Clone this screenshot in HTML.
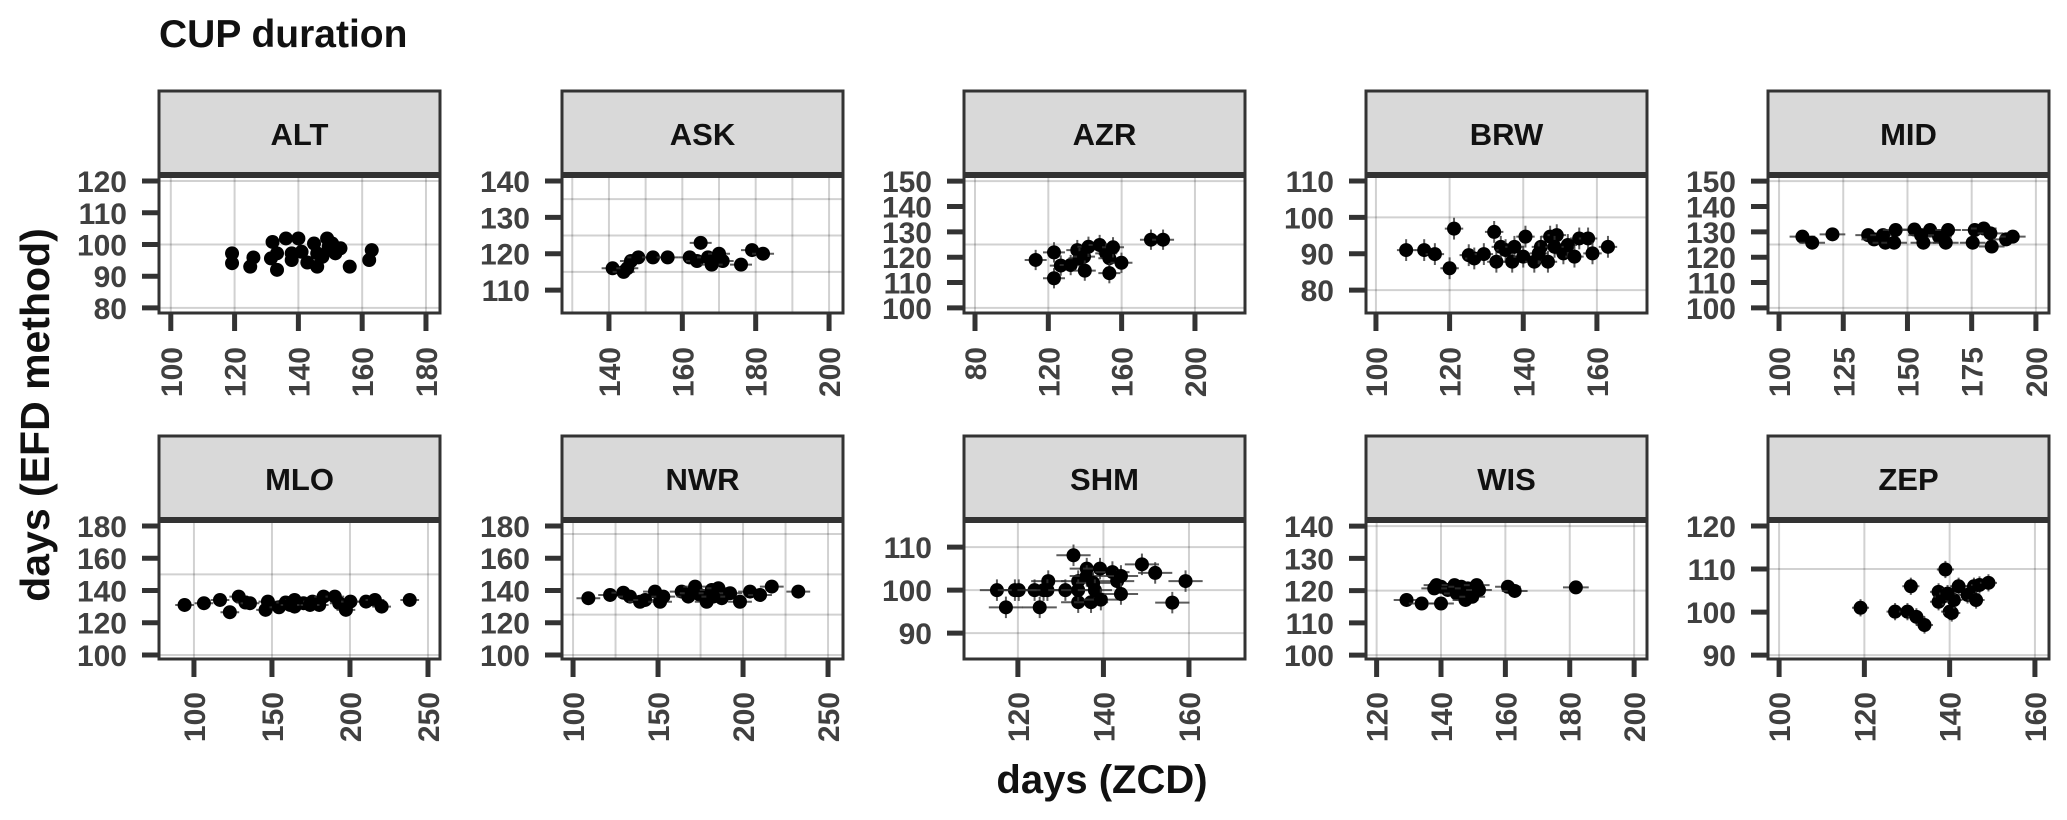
<!DOCTYPE html>
<html><head><meta charset="utf-8"><title>CUP duration</title>
<style>
html,body{margin:0;padding:0;background:#fff;}
svg{display:block;font-family:"Liberation Sans",Arial,sans-serif;}
</style></head>
<body>
<svg id="chart" width="2067" height="820" viewBox="0 0 2067 820" xmlns="http://www.w3.org/2000/svg">
<text x="159" y="47" font-size="39" font-weight="bold" fill="#111">CUP duration</text>
<text transform="translate(49,415) rotate(-90)" text-anchor="middle" font-size="41" font-weight="bold" fill="#111">days (EFD method)</text>
<text x="1102" y="793" text-anchor="middle" font-size="40" font-weight="bold" fill="#111">days (ZCD)</text>
</svg>
<script>
// ---- data: station panels ----
const stations = ["ALT","ASK","AZR","BRW","MID","MLO","NWR","SHM","WIS","ZEP"];
const xTicks = {
 ALT:[100,120,140,160,180], ASK:[140,160,180,200], AZR:[80,120,160,200], BRW:[100,120,140,160], MID:[100,125,150,175,200],
 MLO:[100,150,200,250], NWR:[100,150,200,250], SHM:[120,140,160], WIS:[120,140,160,180,200], ZEP:[100,120,140,160]
};
const yTicks = {
 ALT:[80,90,100,110,120], ASK:[110,120,130,140], AZR:[100,110,120,130,140,150], BRW:[80,90,100,110], MID:[100,110,120,130,140,150],
 MLO:[100,120,140,160,180], NWR:[100,120,140,160,180], SHM:[90,100,110], WIS:[100,110,120,130,140], ZEP:[90,100,110,120]
};
const xLims = {
 ALT:[96.3,184.4], ASK:[127.2,203.8], AZR:[74.0,227.3], BRW:[97.3,173.6], MID:[95.7,205.1],
 MLO:[77.6,257.7], NWR:[93.5,258.8], SHM:[107.4,173.1], WIS:[116.7,204.0], ZEP:[97.4,163.3]
};
const yLims = {
 ALT:[78.4,121.9], ASK:[103.7,141.65], AZR:[98,152.4], BRW:[73.7,111.65], MID:[98,152.4],
 MLO:[97.5,183.7], NWR:[97.5,183.7], SHM:[84.0,116.3], WIS:[98.8,141.9], ZEP:[89.1,121.4]
};
const xGrid = {
 ALT:[100,120,140,160,180], ASK:[130,140,150,160,170,180,190,200], AZR:[80,120,160,200], BRW:[100,120,140,160], MID:[100,125,150,175,200],
 MLO:[100,150,200,250], NWR:[100,125,150,175,200,225,250], SHM:[120,140,160], WIS:[120,140,160,180,200], ZEP:[100,120,140,160]
};
const yGrid = {
 ALT:[80,100,120], ASK:[115,125,135], AZR:[100,125,150], BRW:[80,100], MID:[100,125,150],
 MLO:[100,150], NWR:[100,125,150,175], SHM:[90,100,110], WIS:[100,120,140], ZEP:[90,110]
};
const xVals = {
 ALT:[119.2,119.2,125.9,124.9,131.9,131.4,133.3,133.3,136.1,137.9,137.9,140,141,142.8,144.9,145.9,145.9,149,149.5,151.6,153.2,156.1,162.2,163,150.6,147.5],
 ASK:[141,144,145,146,148,152,156,162,164,165,167,171,176,179,182,170,168],
 AZR:[113.1,123.1,123.1,126.8,132.2,135.8,137,139.5,139.9,141.9,148,151.6,153.3,153.3,155.3,159.9,176,182.6],
 BRW:[108.2,113.1,116,120,121.2,125.2,126.7,129.3,132.1,132.7,133.9,135.2,137,140,140.6,143,144.8,146.7,147.3,149.1,150.9,152.1,153.9,155.2,157.6,158.8,163,144.2,148.5,137.6],
 MID:[109.1,112.9,120.8,134.7,137,140.5,141.4,145.4,144.8,152.7,156.2,158.8,162.3,165.8,164.9,175.4,176.2,179.7,182.3,182.8,188.4,191,155.3],
 MLO:[94,106.4,116.7,123,128.7,133,135.9,145.9,147.4,154.5,158.8,164.5,164.5,170.2,176,180.3,183.1,190.3,193.1,197.4,200.3,210.3,216,220.3,238.3,161.6,174.4],
 NWR:[109,121.8,129.6,133.5,139.4,142.4,148.2,151.2,153.1,163.9,167.8,171.8,174.7,178.6,181.6,185.5,187.5,192.4,198.2,204.1,210,216.9,232.5,169.8,182.5],
 SHM:[115.1,117.2,119.3,120.2,123.9,125.1,126,127.1,126.9,131.1,133,134.1,134.1,134.1,136.1,136.1,137.1,137.6,138,139.2,139.4,142.1,143.2,144.1,144.1,149,152.1,156.1,159.2],
 WIS:[129.3,134,138.6,140,140,142.1,144.2,144.9,146.3,147.6,148.3,149.7,151.1,151.8,160.8,162.9,181.9,137.9],
 ZEP:[119.1,127.2,130.1,130.9,132.2,134.1,137.4,137.4,139,138.4,140,140.5,141,142.1,144.2,145.7,146.2,147,149.1,139.5]
};
const yVals = {
 ALT:[97.2,94.1,95.9,93,100.8,95.6,97.2,92,101.9,97.2,95.1,101.9,97.7,94.3,100.3,97.2,93,101.9,99.3,97.2,98.8,93,95.1,98.2,100.3,96.1],
 ASK:[116,115,116,118,119,119,119,119,118,123,119,118,117,121,120,120,117],
 AZR:[118.9,121.9,111.7,116.7,116.9,122.8,119.6,120.2,114.7,124.1,124.8,121.5,119.6,113.7,123.9,117.8,126.9,126.9],
 BRW:[91,91,89.9,86,96.9,89.6,88.7,89.9,96,87.8,91.9,91,87.8,89.2,94.7,87.8,91.9,87.8,94.7,95.1,90.1,92.4,89.2,94.2,94.2,90.1,91.9,90.1,91.9,91.9],
 MID:[128.1,125.7,129,128.7,127,128.7,125.7,130.7,125.7,130.9,125.7,130.7,128.1,130.7,125.7,125.7,130.7,131.3,129.4,124.2,127,128.1,128.7],
 MLO:[131,132.1,134.1,126.5,136.2,132.5,132.1,128,133.1,129.6,132.5,134.1,130,132.1,133.1,131,136.2,136.2,132.1,128,133.1,133.1,134.1,130,134.1,131,131],
 NWR:[135.2,137.2,138.6,136.2,133,134.1,139.3,133,136.2,139.3,136.2,142.4,137.2,133,140.3,141.4,135.2,138.3,133,139.3,137.2,142.4,139.3,138.3,136.2],
 SHM:[100,96,100,100,100,96,100,102.1,100,100,108.1,102.1,97.2,100,105,103.3,97.2,101.7,100,105,97.8,104.2,102.1,103.3,99.1,106,104,97.1,102.1],
 WIS:[117.1,116,121.7,116,121.2,120.2,121.7,119.1,121.2,117.1,120.7,118.1,121.7,120.2,121.2,119.9,121,120.7],
 ZEP:[101,100.1,100.1,106,98.9,97,104.7,102.4,109.9,103.6,100.1,99.8,102.8,106,104,106,102.8,106.3,106.8,104.3]
};
const xErr = {ALT:2, ASK:3, AZR:6, BRW:2.5, MID:5, MLO:6, NWR:7, SHM:4, WIS:4, ZEP:2};
const yErr = {ALT:2, ASK:1.5, AZR:4, BRW:3, MID:1.5, MLO:2, NWR:2, SHM:2.5, WIS:2, ZEP:2};

// ---- layout ----
const colLeft = [159,562,964,1366,1768];
const panelW = 281;
const rows = [{stripTop:91, plotTop:175, plotBot:313, labTop:347},{stripTop:436, plotTop:520, plotBot:659, labTop:692}];
const NS = "http://www.w3.org/2000/svg";
const svg = document.getElementById("chart");
function mk(tag, attrs, parent){ const e=document.createElementNS(NS,tag); for(const k in attrs) e.setAttribute(k,attrs[k]); (parent||svg).appendChild(e); return e; }

stations.forEach((st, i) => {
  const r = rows[Math.floor(i/5)];
  const L = colLeft[i%5], R = L + panelW;
  const T = r.plotTop, B = r.plotBot;
  const xs = v => L + (v - xLims[st][0]) / (xLims[st][1]-xLims[st][0]) * (R-L);
  const ys = v => B - (v - yLims[st][0]) / (yLims[st][1]-yLims[st][0]) * (B-T);
  const g = mk("g", {});
  
  
  const strip = mk("rect", {x:L, y:r.stripTop, width:panelW, height:T-r.stripTop, fill:"#d9d9d9", stroke:"#333", "stroke-width":3}, g);
  
  
  const st_t = mk("text", {x:(L+R)/2, y:r.stripTop+54, "text-anchor":"middle", "font-size":31, "font-weight":"bold", fill:"#111"}, g);
  st_t.textContent = st;
  
  
  mk("rect", {x:L, y:T, width:panelW, height:B-T, fill:"#fff"}, g);
  xGrid[st].forEach(v => { const x = xs(v); if (x > L && x < R) { const l = mk("line", {x1:x, x2:x, y1:T, y2:B, stroke:"#000", "stroke-opacity":0.18, "stroke-width":2}, g);   } });
  yGrid[st].forEach(v => { const y = ys(v); if (y > T && y < B) { const l = mk("line", {x1:L, x2:R, y1:y, y2:y, stroke:"#000", "stroke-opacity":0.18, "stroke-width":2}, g);   } });
  xVals[st].forEach((xv, k) => {
    const yv = yVals[st][k];
    const cx = xs(xv), cy = ys(yv);
    const ex = mk("line", {x1:xs(xv - xErr[st]), x2:xs(xv + xErr[st]), y1:cy, y2:cy, stroke:"#333", "stroke-width":2, "stroke-opacity":0.8}, g);
    
    
    const ey = mk("line", {x1:cx, x2:cx, y1:ys(yv - yErr[st]), y2:ys(yv + yErr[st]), stroke:"#333", "stroke-width":2, "stroke-opacity":0.8}, g);
    
    
    const c = mk("circle", {cx:cx, cy:cy, r:7, fill:"#000"}, g);
    
    
  });
  mk("rect", {x:L, y:T, width:panelW, height:B-T, fill:"none", stroke:"#333", "stroke-width":3}, g);
  mk("line", {x1:L, x2:R, y1:T, y2:T, stroke:"#333", "stroke-width":6}, g);
  yTicks[st].forEach(v => {
    const y = ys(v);
    const tk = mk("line", {x1:L-17, x2:L, y1:y, y2:y, stroke:"#333", "stroke-width":5}, g);
    
    
    const t = mk("text", {x:L-32, y:y+11, "text-anchor":"end", "font-size":30, "font-weight":"bold", fill:"#404040"}, g);
    t.textContent = v;
    
    
  });
  xTicks[st].forEach(v => {
    const x = xs(v);
    const tk = mk("line", {x1:x, x2:x, y1:B, y2:B+18, stroke:"#333", "stroke-width":5}, g);
    
    
    const t = mk("text", {transform:"translate(" + (x+11) + "," + r.labTop + ") rotate(-90)", "text-anchor":"end", "font-size":30, "font-weight":"bold", fill:"#404040"}, g);
    t.textContent = v;
    
    
  });
});
</script>
</body></html>
